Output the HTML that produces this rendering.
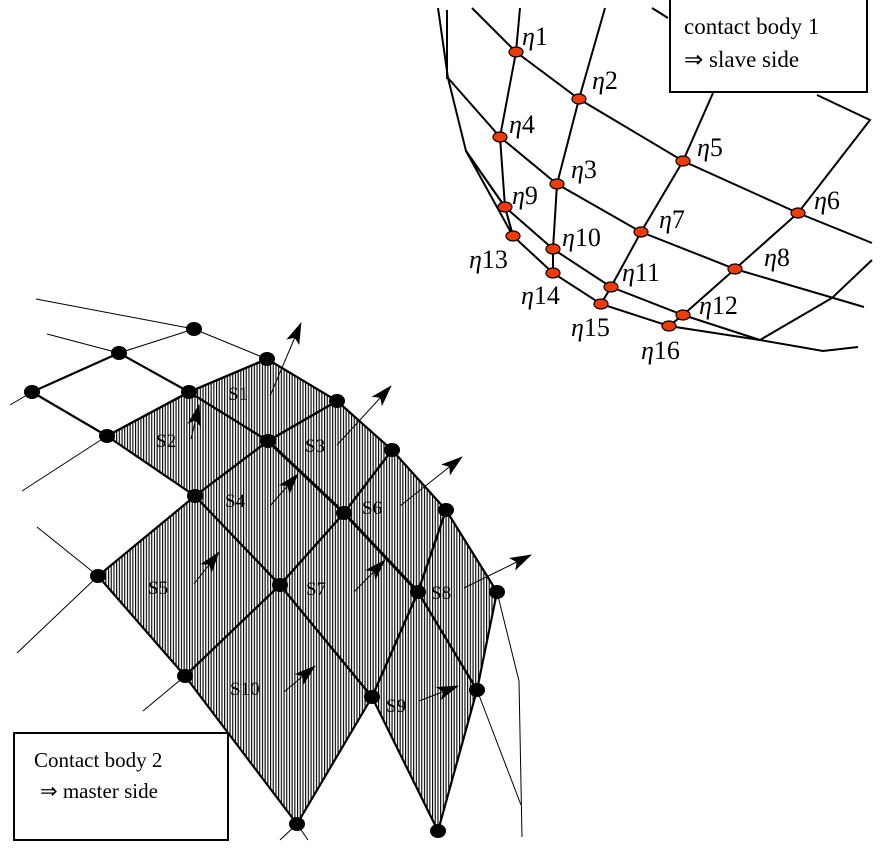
<!DOCTYPE html>
<html><head><meta charset="utf-8"><style>
html,body{margin:0;padding:0;background:#fff;}
svg{display:block;}
text{font-family:"Liberation Serif",serif;}
</style></head><body>
<svg width="883" height="855" viewBox="0 0 883 855" xmlns="http://www.w3.org/2000/svg">
<defs>
<pattern id="h" width="2.7" height="10" patternUnits="userSpaceOnUse">
<rect x="0" y="0" width="1.1" height="10" fill="#000"/>
</pattern>
<marker id="ah" markerWidth="22" markerHeight="14" refX="21" refY="7" orient="auto" markerUnits="userSpaceOnUse" viewBox="0 0 22 14">
<path d="M0,0 L22,7 L0,14 L5,7 z" fill="#000"/>
</marker>
</defs>

<!-- ===== Right: slave side ===== -->
<g stroke="#000" stroke-width="2" fill="none">
<polyline points="472,8 516,52 579,99 683,161 798,213 872,243"/>
<polyline points="448,78 500,137 557,184 641,232 735,269 864,307"/>
<polyline points="466,151 505,207 553,249 611,287 683,315 760,340"/>
<polyline points="438,8 448,78 466,151 513,236 553,273 601,304 669,326 760,340 823,351 858,347"/>
<polyline points="447,10 447,79"/>
<polyline points="466,151 505,207 513,236"/>
<polyline points="520,8 516,52 500,137 505,207 513,236"/>
<polyline points="605,8 579,99 557,184 553,249 553,273"/>
<polyline points="713,93 683,161 641,232 611,287 601,304"/>
<polyline points="817,95 870,120 798,213 735,269 683,315 669,326"/>
<polyline points="872,260 832,298 760,340"/>
<line x1="652" y1="8" x2="668" y2="18"/>
</g>
<rect x="670" y="-2" width="197" height="94" fill="#fff" stroke="#000" stroke-width="2"/>
<text x="684" y="34" font-size="23">contact body 1</text>
<text x="684" y="67" font-size="23">⇒ slave side</text>

<g fill="#f03c00" stroke="#000" stroke-width="1.2">
<ellipse cx="516" cy="52" rx="7" ry="5"/>
<ellipse cx="579" cy="99" rx="7" ry="5"/>
<ellipse cx="500" cy="137" rx="7" ry="5"/>
<ellipse cx="683" cy="161" rx="7" ry="5"/>
<ellipse cx="557" cy="184" rx="7" ry="5"/>
<ellipse cx="798" cy="213" rx="7" ry="5"/>
<ellipse cx="505" cy="207" rx="7" ry="5"/>
<ellipse cx="641" cy="232" rx="7" ry="5"/>
<ellipse cx="553" cy="249" rx="7" ry="5"/>
<ellipse cx="513" cy="236" rx="7" ry="5"/>
<ellipse cx="735" cy="269" rx="7" ry="5"/>
<ellipse cx="553" cy="273" rx="7" ry="5"/>
<ellipse cx="611" cy="287" rx="7" ry="5"/>
<ellipse cx="601" cy="304" rx="7" ry="5"/>
<ellipse cx="683" cy="315" rx="7" ry="5"/>
<ellipse cx="669" cy="326" rx="7" ry="5"/>
</g>
<g font-size="26">
<text x="522" y="45"><tspan font-style="italic">η</tspan>1</text>
<text x="592" y="89"><tspan font-style="italic">η</tspan>2</text>
<text x="509" y="133"><tspan font-style="italic">η</tspan>4</text>
<text x="697" y="156"><tspan font-style="italic">η</tspan>5</text>
<text x="571" y="178"><tspan font-style="italic">η</tspan>3</text>
<text x="814" y="209"><tspan font-style="italic">η</tspan>6</text>
<text x="512" y="204"><tspan font-style="italic">η</tspan>9</text>
<text x="659" y="228"><tspan font-style="italic">η</tspan>7</text>
<text x="562" y="246"><tspan font-style="italic">η</tspan>10</text>
<text x="469" y="268"><tspan font-style="italic">η</tspan>13</text>
<text x="764" y="266"><tspan font-style="italic">η</tspan>8</text>
<text x="521" y="304"><tspan font-style="italic">η</tspan>14</text>
<text x="622" y="281"><tspan font-style="italic">η</tspan>11</text>
<text x="699" y="314"><tspan font-style="italic">η</tspan>12</text>
<text x="571" y="336"><tspan font-style="italic">η</tspan>15</text>
<text x="641" y="359"><tspan font-style="italic">η</tspan>16</text>
</g>

<!-- ===== Left: master side ===== -->
<g fill="url(#h)" stroke="none">
<polygon points="189,392 267,359 337,401 268,441"/>
<polygon points="189,392 268,441 195,496 107,436"/>
<polygon points="268,441 337,401 392,450 344,513"/>
<polygon points="195,496 268,441 344,513 280,585"/>
<polygon points="98,576 195,496 280,585 185,676"/>
<polygon points="344,513 392,450 446,510 418,592"/>
<polygon points="280,585 344,513 418,592 372,697"/>
<polygon points="418,592 446,510 497,592 477,690"/>
<polygon points="185,676 280,585 372,697 297,824"/>
<polygon points="372,697 418,592 477,690 438,831"/>
</g>
<g stroke="#000" stroke-width="1" fill="none">
<line x1="36" y1="299" x2="194" y2="329"/>
<line x1="194" y1="329" x2="267" y2="359"/>
<line x1="119" y1="353" x2="194" y2="329"/>
<line x1="47" y1="334" x2="119" y2="353"/>
<line x1="32" y1="392" x2="10" y2="405"/>
<line x1="107" y1="436" x2="22" y2="491"/>
<line x1="98" y1="576" x2="37" y2="527"/>
<line x1="98" y1="576" x2="17" y2="653"/>
<line x1="185" y1="676" x2="143" y2="711"/>
<line x1="297" y1="824" x2="280" y2="840"/>
<line x1="297" y1="824" x2="308" y2="840"/>
<polyline points="497,592 519,681 522,837"/>
<line x1="477" y1="690" x2="521" y2="805"/>
</g>
<g stroke="#000" stroke-width="2.2" fill="none" stroke-linejoin="round">
<polyline points="32,392 119,353 189,392 267,359"/>
<polyline points="32,392 107,436 189,392"/>
<polygon points="189,392 267,359 337,401 268,441"/>
<polygon points="189,392 268,441 195,496 107,436"/>
<polygon points="268,441 337,401 392,450 344,513"/>
<polygon points="195,496 268,441 344,513 280,585"/>
<polygon points="98,576 195,496 280,585 185,676"/>
<polygon points="344,513 392,450 446,510 418,592"/>
<polygon points="280,585 344,513 418,592 372,697"/>
<polygon points="418,592 446,510 497,592 477,690"/>
<polygon points="185,676 280,585 372,697 297,824"/>
<polygon points="372,697 418,592 477,690 438,831"/>
<polyline points="268,441 344,513 418,592" stroke-width="3"/>
</g>
<g fill="#000">
<ellipse cx="194" cy="329" rx="8" ry="7"/>
<ellipse cx="119" cy="353" rx="8" ry="7"/>
<ellipse cx="32" cy="392" rx="8" ry="7"/>
<ellipse cx="267" cy="359" rx="8" ry="7"/>
<ellipse cx="189" cy="392" rx="8" ry="7"/>
<ellipse cx="107" cy="436" rx="8" ry="7"/>
<ellipse cx="337" cy="401" rx="8" ry="7"/>
<ellipse cx="268" cy="441" rx="8" ry="7"/>
<ellipse cx="392" cy="450" rx="8" ry="7"/>
<ellipse cx="195" cy="496" rx="8" ry="7"/>
<ellipse cx="344" cy="513" rx="8" ry="7"/>
<ellipse cx="446" cy="510" rx="8" ry="7"/>
<ellipse cx="98" cy="576" rx="8" ry="7"/>
<ellipse cx="280" cy="585" rx="8" ry="7"/>
<ellipse cx="418" cy="592" rx="8" ry="7"/>
<ellipse cx="497" cy="592" rx="8" ry="7"/>
<ellipse cx="185" cy="676" rx="8" ry="7"/>
<ellipse cx="372" cy="697" rx="8" ry="7"/>
<ellipse cx="477" cy="690" rx="8" ry="7"/>
<ellipse cx="297" cy="824" rx="8" ry="7"/>
<ellipse cx="438" cy="831" rx="8" ry="7"/>
</g>
<g stroke="#000" stroke-width="1" marker-end="url(#ah)">
<line x1="270" y1="396" x2="301" y2="323"/>
<line x1="191" y1="439" x2="199" y2="405"/>
<line x1="337" y1="445" x2="391" y2="386"/>
<line x1="270" y1="506" x2="298" y2="474"/>
<line x1="194" y1="584" x2="219" y2="552"/>
<line x1="400" y1="506" x2="462" y2="457"/>
<line x1="354" y1="592" x2="385" y2="560"/>
<line x1="464" y1="588" x2="531" y2="555"/>
<line x1="284" y1="692" x2="315" y2="666"/>
<line x1="419" y1="701" x2="458" y2="686"/>
</g>
<g font-size="19" fill="#000">
<text x="228" y="400">S1</text>
<text x="156" y="447">S2</text>
<text x="305" y="452">S3</text>
<text x="225" y="507">S4</text>
<text x="148" y="594">S5</text>
<text x="362" y="514">S6</text>
<text x="306" y="595">S7</text>
<text x="431" y="599">S8</text>
<text x="230" y="695">S10</text>
<text x="386" y="712">S9</text>
</g>
<rect x="14" y="733" width="214" height="107" fill="#fff" stroke="#000" stroke-width="2"/>
<text x="34" y="767" font-size="21">Contact body 2</text>
<text x="40" y="798" font-size="21">⇒  master side</text>
</svg>
</body></html>
